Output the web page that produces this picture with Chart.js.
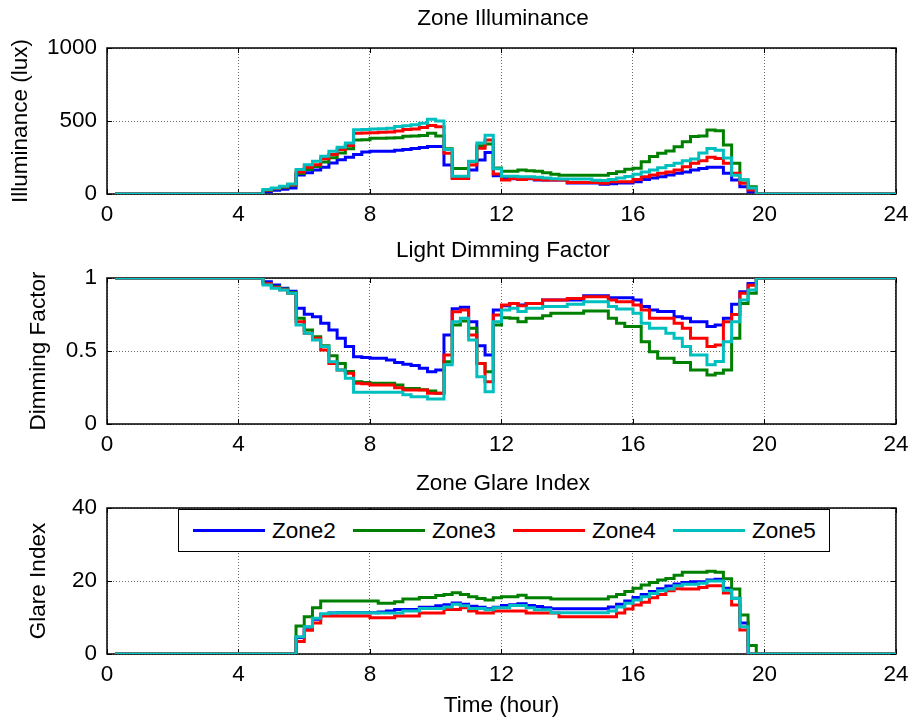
<!DOCTYPE html>
<html>
<head>
<meta charset="utf-8">
<script src="https://cdn.jsdelivr.net/npm/chart.js@4.4.1/dist/chart.umd.min.js"></script>
<style>
  body { margin: 0; background: #fff; width: 916px; height: 725px; position: relative; overflow: hidden; font-family: "Liberation Sans", Arial, sans-serif; color: #000; }
  .panel { position: absolute; left: 0; }
  .title { position: absolute; left: 107px; width: 792px; text-align: center; font-size: 22.5px; line-height: 26px; z-index: 2; }
  #legend { position: absolute; left: 178px; top: 509px; width: 652px; height: 43px; border: 1px solid #000; background: #fff; box-sizing: border-box; z-index: 2; }
  .item { position: absolute; top: 0; height: 41px; display: flex; align-items: center; font-size: 22.5px; }
  .swatch { width: 72px; height: 3px; margin-right: 7px; }
</style>
</head>
<body>
<div class="title" style="top:5px">Zone Illuminance</div>
<div class="title" style="top:237px">Light Dimming Factor</div>
<div class="title" style="top:470px">Zone Glare Index</div>

<div class="panel" style="top:0"><canvas id="illum" width="916" height="240"></canvas></div>
<div class="panel" style="top:240px"><canvas id="dim" width="916" height="225"></canvas></div>
<div class="panel" style="top:465px"><canvas id="glare" width="916" height="260"></canvas></div>
<div id="legend"></div>

<script>
// time stamps, every 15 minutes from 0:15 to 24:00
const hours = Array.from({length: 96}, (_, i) => (i + 1) / 4);
const zones = ['Zone2', 'Zone3', 'Zone4', 'Zone5'];
const zoneColors = ['#0000ff', '#008000', '#ff0000', '#00bfbf'];

// Zone illuminance (lux)
const illumZone2 = [
  0,0,0,0, 0,0,0,0, 0,0,0,0, 0,0,0,0, 0,0,
  15,
  25,33,41,130, 145,165,183,213, 235,251,270,288, 292,292,292,300, 305,312,318,325,
  325,199,115,115, 164,233,285,125, 110,105,100,105, 96,96,96,96, 75,75,75,75,
  66,70,75,75, 84,100,110,119, 130,142,150,164, 175,183,183,142, 96,50,16,0,
  0,0,0,0, 0,0,0,0, 0,0,0,0, 0,0,0,0, 0
];
const illumZone3 = [
  0,0,0,0, 0,0,0,0, 0,0,0,0, 0,0,0,0, 0,0,
  26,
  36,47,60,140, 168,188,220,248, 280,310,370,372, 381,381,383,385, 395,397,400,416,
  397,310,175,175, 221,330,343,178, 155,155,164,160, 155,146,135,128, 128,128,128,128,
  128,140,153,170, 176,221,256,279, 295,324,358,393, 397,438,434,336, 210,96,50,0,
  0,0,0,0, 0,0,0,0, 0,0,0,0, 0,0,0,0, 0
];
const illumZone4 = [
  0,0,0,0, 0,0,0,0, 0,0,0,0, 0,0,0,0, 0,0,
  28,
  38,50,63,151, 183,201,242,270, 304,333,416,418, 420,423,425,432, 441,445,455,470,
  460,279,107,107, 199,313,370,137, 96,107,100,107, 100,96,96,96, 78,78,78,78,
  73,84,84,84, 100,119,130,142, 150,164,187,210, 228,251,244,210, 142,73,27,0,
  0,0,0,0, 0,0,0,0, 0,0,0,0, 0,0,0,0, 0
];
const illumZone5 = [
  0,0,0,0, 0,0,0,0, 0,0,0,0, 0,0,0,0, 0,0,
  30,
  41,53,68,167, 201,224,258,292, 320,349,440,442, 445,447,450,462, 468,475,485,512,
  500,304,121,121, 224,349,402,173, 121,121,118,118, 115,110,105,103, 103,103,103,95,
  92,100,110,120, 135,150,165,180, 195,210,228,240, 281,311,300,247, 128,98,41,0,
  0,0,0,0, 0,0,0,0, 0,0,0,0, 0,0,0,0, 0
];

// Light dimming factor
const dimZone2 = [
  1,1,1,1, 1,1,1,1, 1,1,1,1, 1,1,1,1, 1,1,
  0.975,
  0.952,0.929,0.91,0.792, 0.752,0.735,0.69,0.644, 0.587,0.53,0.461,0.455, 0.45,0.45,0.438,0.422, 0.409,0.4,0.381,0.358,
  0.37,0.61,0.79,0.8, 0.7,0.536,0.472,0.78, 0.81,0.826,0.815,0.826, 0.826,0.849,0.849,0.849, 0.849,0.849,0.879,0.879,
  0.879,0.865,0.865,0.865, 0.849,0.804,0.781,0.77, 0.77,0.735,0.724,0.7, 0.7,0.667,0.678,0.724, 0.82,0.906,0.963,1,
  1,1,1,1, 1,1,1,1, 1,1,1,1, 1,1,1,1, 1
];
const dimZone3 = [
  1,1,1,1, 1,1,1,1, 1,1,1,1, 1,1,1,1, 1,1,
  0.96,
  0.94,0.925,0.9,0.724, 0.644,0.598,0.536,0.468, 0.415,0.36,0.29,0.285, 0.279,0.279,0.279,0.267, 0.244,0.244,0.235,0.226,
  0.21,0.426,0.678,0.705, 0.655,0.415,0.358,0.678, 0.728,0.724,0.7,0.724, 0.724,0.742,0.758,0.758, 0.758,0.758,0.774,0.774,
  0.774,0.724,0.69,0.667, 0.667,0.564,0.495,0.45, 0.45,0.422,0.422,0.37, 0.37,0.336,0.347,0.37, 0.587,0.826,0.895,1,
  1,1,1,1, 1,1,1,1, 1,1,1,1, 1,1,1,1, 1
];
const dimZone4 = [
  1,1,1,1, 1,1,1,1, 1,1,1,1, 1,1,1,1, 1,1,
  0.96,
  0.935,0.92,0.895,0.7, 0.621,0.587,0.507,0.415, 0.37,0.347,0.279,0.275, 0.267,0.267,0.267,0.249, 0.233,0.233,0.233,0.21,
  0.21,0.472,0.769,0.78, 0.61,0.415,0.29,0.746, 0.815,0.826,0.81,0.826, 0.826,0.849,0.849,0.849, 0.86,0.86,0.872,0.872,
  0.872,0.849,0.838,0.838, 0.815,0.781,0.724,0.724, 0.724,0.69,0.655,0.587, 0.587,0.53,0.541,0.7, 0.75,0.895,0.95,1,
  1,1,1,1, 1,1,1,1, 1,1,1,1, 1,1,1,1, 1
];
const dimZone5 = [
  1,1,1,1, 1,1,1,1, 1,1,1,1, 1,1,1,1, 1,1,
  0.952,
  0.929,0.918,0.895,0.678, 0.621,0.575,0.53,0.426, 0.37,0.313,0.217,0.217, 0.217,0.217,0.217,0.217, 0.2,0.187,0.187,0.171,
  0.171,0.405,0.7,0.724, 0.575,0.324,0.221,0.7, 0.78,0.792,0.77,0.792, 0.792,0.804,0.804,0.804, 0.82,0.82,0.838,0.838,
  0.838,0.804,0.788,0.788, 0.758,0.69,0.655,0.655, 0.621,0.587,0.53,0.472, 0.472,0.405,0.428,0.564, 0.7,0.849,0.918,1,
  1,1,1,1, 1,1,1,1, 1,1,1,1, 1,1,1,1, 1
];

// Zone glare index
const glareZone2 = [
  0,0,0,0, 0,0,0,0, 0,0,0,0, 0,0,0,0, 0,0,
  0,
  0,0,0,4.5, 7.3,9.5,10.8,11.2, 11.3,11.3,11.3,11.3, 11.3,11.5,11.8,12.2, 12.2,12.2,12.8,12.8,
  13.2,13.5,14,13.6, 13.1,12.8,12.4,12.8, 13.3,13.5,13.8,13.3, 13,12.7,12.4,12.4, 12.4,12.4,12.4,12.4,
  12.4,12.9,13.6,14.5, 15.5,16.3,17.1,17.9, 18.6,19.2,19.6,19.8, 19.8,20.3,20.5,18, 15.3,8.5,0,0,
  0,0,0,0, 0,0,0,0, 0,0,0,0, 0,0,0,0, 0
];
const glareZone3 = [
  0,0,0,0, 0,0,0,0, 0,0,0,0, 0,0,0,0, 0,0,
  0,
  0,0,0,7.7, 10.2,12.7,14.5,14.5, 14.5,14.5,14.5,14.5, 14.5,13.9,13.9,14.3, 15.1,15.1,15.5,15.5,
  16,16.3,16.8,16.3, 15.7,15.2,14.8,15.4, 15.7,15.7,16.1,15.4, 15.4,15.4,15.1,15.1, 15.1,15.1,15.1,15.1,
  15.1,15.7,16.3,17.1, 18,18.9,19.6,20.3, 20.7,21.6,22.4,22.4, 22.4,22.7,22.4,20.6, 17.8,10.7,2.3,0,
  0,0,0,0, 0,0,0,0, 0,0,0,0, 0,0,0,0, 0
];
const glareZone4 = [
  0,0,0,0, 0,0,0,0, 0,0,0,0, 0,0,0,0, 0,0,
  0,
  0,0,0,3.4, 6.5,8.5,10.4,10.4, 10.4,10.4,10.4,10.4, 9.9,9.9,9.9,10.4, 10.4,10.4,11.2,11.2,
  11.2,12.2,12.2,12.7, 11.8,11.2,11.2,11.8, 11.8,11.8,11.8,11.2, 11.2,11.2,11.2,10.2, 10.2,10.2,10.2,10.2,
  10.2,10.2,11.2,12.3, 13.4,14.2,15.4,16.3, 17.3,17.9,17.8,17.8, 18.2,18.7,18.7,16.7, 13.4,6.6,0,0,
  0,0,0,0, 0,0,0,0, 0,0,0,0, 0,0,0,0, 0
];
const glareZone5 = [
  0,0,0,0, 0,0,0,0, 0,0,0,0, 0,0,0,0, 0,0,
  0,
  0,0,0,4.7, 7.5,9.8,11,11.2, 11.3,11.3,11.3,11.3, 11.3,11.2,11.2,11.2, 11.8,11.8,12.5,12.5,
  12.5,12.9,13.6,13.2, 12.5,12.5,12.1,12.7, 12.7,13.3,13.3,12.7, 12.1,12.1,11.3,11.3, 11.3,11.3,11.3,11.3,
  11.3,11.8,12.9,13.9, 14.8,15.7,16.6,17.3, 17.8,18.7,19.1,19.1, 19.4,20,20,17.5, 15.2,7.5,0,0,
  0,0,0,0, 0,0,0,0, 0,0,0,0, 0,0,0,0, 0
];

const font = { family: "'Liberation Sans', Arial, sans-serif", size: 22.5 };

// MATLAB-like frame: full box and inward tick marks
const matlabBox = {
  id: 'matlabBox',
  beforeDatasetsDraw(chart) {
    const { ctx, chartArea: a, scales: { x, y } } = chart;
    ctx.save();
    ctx.strokeStyle = '#000';
    ctx.lineWidth = 1;
    ctx.beginPath();
    x.ticks.forEach(t => {
      const px = Math.round(x.getPixelForValue(t.value)) + 0.5;
      ctx.moveTo(px, a.bottom); ctx.lineTo(px, a.bottom - 5);
      ctx.moveTo(px, a.top); ctx.lineTo(px, a.top + 5);
    });
    y.ticks.forEach(t => {
      const py = Math.round(y.getPixelForValue(t.value)) + 0.5;
      ctx.moveTo(a.left, py); ctx.lineTo(a.left + 5, py);
      ctx.moveTo(a.right, py); ctx.lineTo(a.right - 5, py);
    });
    ctx.stroke();
    ctx.lineWidth = 1.5;
    ctx.strokeRect(a.left, a.top, a.right - a.left, a.bottom - a.top);
    ctx.restore();
  }
};

function makePanel(id, series, yMax, yStep, yTitle, yTitlePad, padTop, xHeight, xTitle) {
  const datasets = series.map((vals, i) => ({
    label: zones[i],
    data: hours.map((h, k) => ({ x: h, y: vals[k] })),
    borderColor: zoneColors[i],
    backgroundColor: zoneColors[i],
    borderWidth: 3,
    pointRadius: 0,
    stepped: 'before',   // value holds until the next time stamp (stairs)
    fill: false,
    order: series.length - i
  }));
  return new Chart(document.getElementById(id), {
    type: 'line',
    data: { datasets },
    options: {
      responsive: false,
      animation: false,
      events: [],
      layout: { padding: { top: padTop, right: 17, left: 0, bottom: 0 } },
      plugins: { legend: { display: false }, tooltip: { enabled: false } },
      scales: {
        x: {
          type: 'linear', min: 0, max: 24,
          ticks: { stepSize: 4, color: '#000', font, padding: 7.5, maxRotation: 0, callback: v => String(v) },
          grid: { color: '#6a6a6a', lineWidth: 1, drawTicks: false },
          border: { display: false, dash: [1, 2] },
          title: xTitle ? { display: true, text: xTitle, color: '#000', font, padding: { top: 0, bottom: 5.5 } } : { display: false },
          afterFit: s => { s.height = xHeight; }
        },
        y: {
          min: 0, max: yMax,
          ticks: { stepSize: yStep, color: '#000', font, padding: 10, callback: v => String(v) },
          grid: { color: '#6a6a6a', lineWidth: 1, drawTicks: false },
          border: { display: false, dash: [1, 2] },
          title: { display: true, text: yTitle, color: '#000', font, padding: { top: yTitlePad, bottom: 0 } },
          afterFit: s => { s.width = 107; }
        }
      }
    },
    plugins: [matlabBox]
  });
}

makePanel('illum', [illumZone2, illumZone3, illumZone4, illumZone5], 1000, 500, 'Illuminance (lux)', 7, 48, 46);
makePanel('dim', [dimZone2, dimZone3, dimZone4, dimZone5], 1, 0.5, 'Dimming Factor', 25, 38, 41);
makePanel('glare', [glareZone2, glareZone3, glareZone4, glareZone5], 40, 20, 'Glare Index', 25, 43, 71, 'Time (hour)');

// legend drawn inside the bottom axes, like the original
const legend = document.getElementById('legend');
zones.forEach((name, i) => {
  const item = document.createElement('div');
  item.className = 'item';
  item.style.left = (14 + i * 160) + 'px';
  item.innerHTML = '<span class="swatch" style="background:' + zoneColors[i] + '"></span>' + name;
  legend.appendChild(item);
});
</script>
</body>
</html>
